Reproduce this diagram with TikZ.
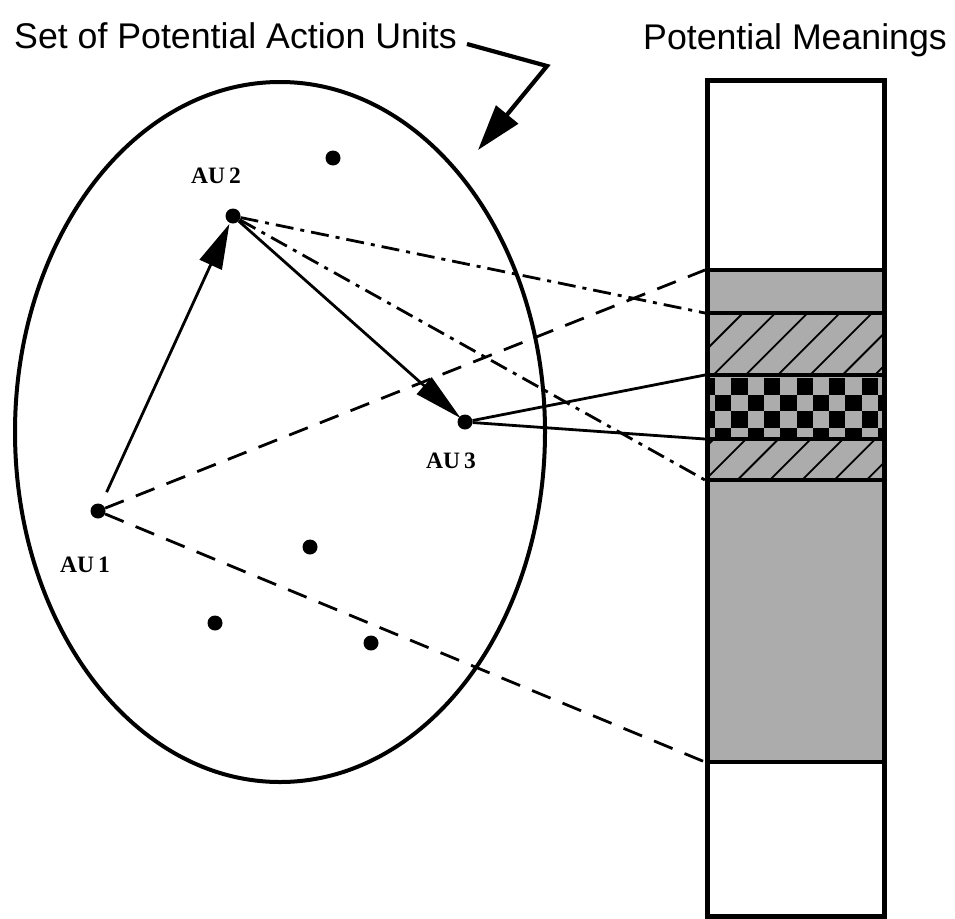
\documentclass[tikz,border=0pt]{standalone}
\usepackage{fontspec}
\setmainfont{Liberation Sans}
\newfontfamily\aufont{Liberation Serif}
\usetikzlibrary{arrows.meta,shapes.geometric}
\definecolor{bandgray}{RGB}{172,172,172}
\begin{document}
\begin{tikzpicture}[x=1pt,y=-1pt,
  dotn/.style={circle,fill=black,inner sep=0pt,minimum size=15pt},
  aulabel/.style={font=\aufont\bfseries\fontsize{23.5}{26}\selectfont,inner sep=0pt},
  conn/.style={line width=2.8pt},
  dashedconn/.style={conn,dash pattern=on 20pt off 13pt},
  dashdotconn/.style={conn,dash pattern=on 18pt off 7pt on 4pt off 7pt},
  arrowconn/.style={conn,-{Triangle[length=45pt,width=24pt]}},
  bandline/.style={line width=4pt},
  hatchline/.style={line width=1.8pt},
  titlefont/.style={font=\fontsize{35.7}{40}\selectfont,inner sep=0pt}
]
\useasboundingbox (0,0) rectangle (955,918);

% titles
\node[titlefont,anchor=base west] (title) at (14,48) {Set of Potential Action Units};
\node[titlefont,anchor=base west] (pmtitle) at (643,49) {Potential Meanings};

% set ellipse
\node[draw,ellipse,line width=4pt,minimum width=530pt,minimum height=700pt,inner sep=0pt] (set) at (280,432) {};

% title arrow
\coordinate (ta) at (467,44);
\coordinate (tb) at (547,66);
\coordinate (tc) at (478,150);
\draw[line width=4.2pt,line join=miter,-{Triangle[length=46pt,width=28pt]}] (ta) -- (tb) -- (tc);

% action units
\node[dotn] (au1) at (98,511) {};
\node[dotn] (au2) at (233,216) {};
\node[dotn] (au3) at (465,422) {};
\node[dotn] (d1) at (333,158) {};
\node[dotn] (d2) at (310,547) {};
\node[dotn] (d3) at (215,623) {};
\node[dotn] (d4) at (371,643) {};
\node[aulabel] (l1) at (85,565) {AU\,1};
\node[aulabel] (l2) at (216,176) {AU\,2};
\node[aulabel] (l3) at (451,461) {AU\,3};

% band corners on the meanings column
\coordinate (g1) at (705,270);
\coordinate (h1) at (705,313);
\coordinate (c1) at (705,375);
\coordinate (c2) at (705,439);
\coordinate (h2) at (705,480);
\coordinate (g2) at (705,762);

% connectors
\draw[dashedconn] (au1) -- (g1);
\draw[dashedconn] (au1) -- (g2);
\draw[dashdotconn] (au2) -- (h1);
\draw[dashdotconn] (au2) -- (h2);
\draw[conn] (au3) -- (c1);
\draw[conn] (au3) -- (c2);
\draw[arrowconn,shorten <=13pt,shorten >=1pt] (au1) -- (au2);
\draw[conn,-{Triangle[length=49pt,width=22pt]},shorten >=-2pt] (au2) -- (au3);

% meanings column
\fill[white] (705,78) rectangle (882,914);
\fill[bandgray] (705,270) rectangle (882,762);
\begin{scope}
  \clip (705,313) rectangle (882,375) (705,439) rectangle (882,480);
  \foreach \k in {-4,...,14} {
    \draw[hatchline] ({1056+32.3*\k-280},280) -- ({1056+32.3*\k-520},520);
  }
\end{scope}
\begin{scope}
  \clip (705,375) rectangle (882,439);
  \foreach \j in {0,...,3} {
    \foreach \i in {-1,...,10} {
      \pgfmathtruncatemacro\chk{mod(\i+\j+10,2)}
      \ifnum\chk=1
        \fill[black] ({715+16.3*\i},{378+16.7*\j}) rectangle ({715+16.3*(\i+1)},{378+16.7*(\j+1)});
      \fi
    }
  }
\end{scope}
\foreach \yy in {270,313,375,439,480,762} {
  \draw[bandline] (705,\yy) -- (882,\yy);
}
\node[draw,line width=5pt,minimum width=177pt,minimum height=836pt,inner sep=0pt,anchor=north west] (meanings) at (705,78) {};
\end{tikzpicture}
\end{document}
